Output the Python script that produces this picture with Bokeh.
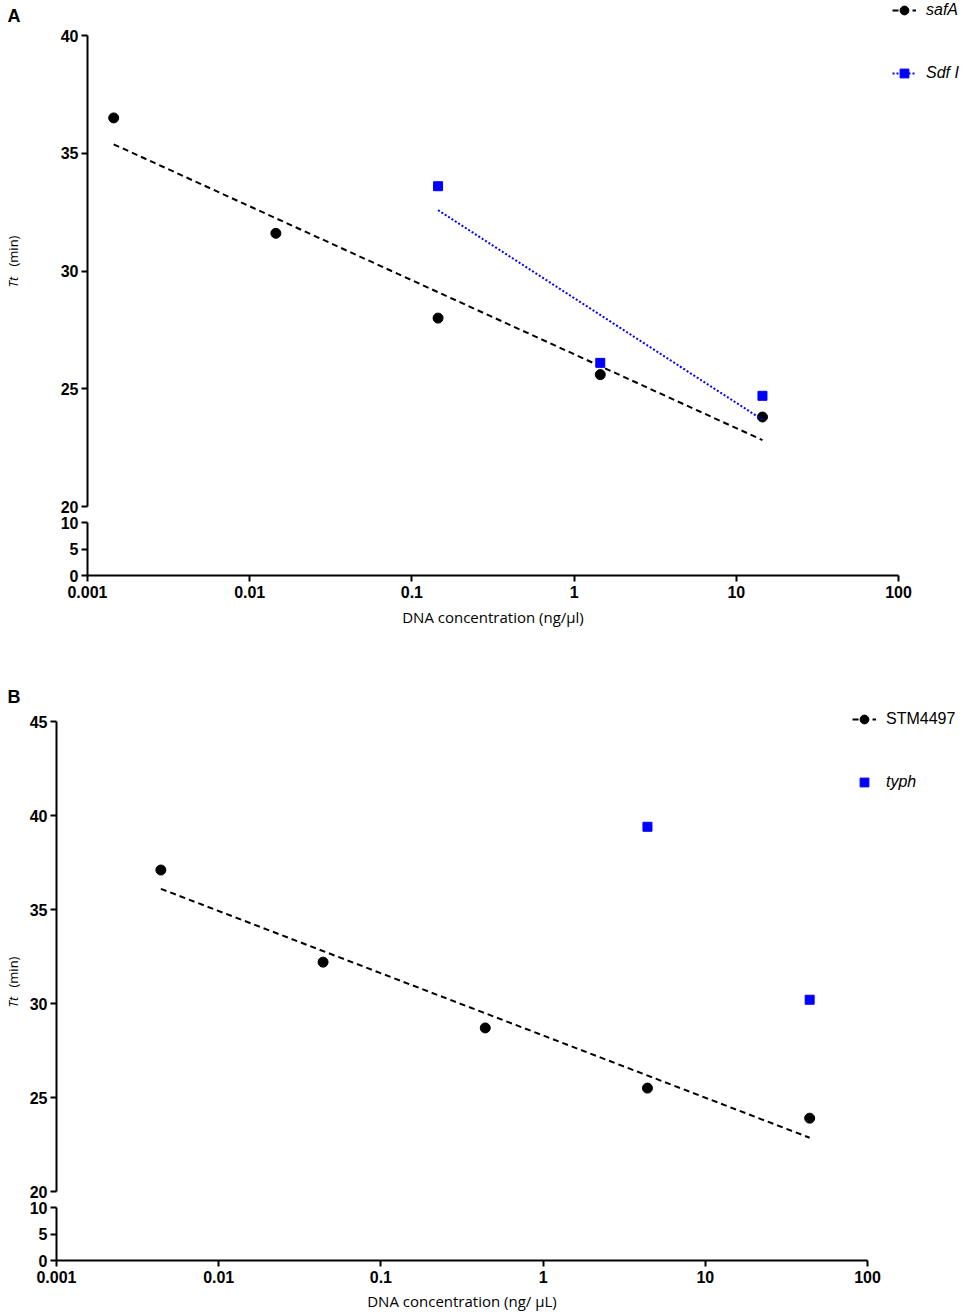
import numpy as np
from bokeh.plotting import figure
from bokeh.layouts import column, row
from bokeh.models import Range1d, FixedTicker, Legend, LegendItem, Label
from bokeh.embed import file_html
from bokeh.resources import INLINE

# ---------------- data ----------------
# Panel A
a_conc = [0.00145, 0.0145, 0.145, 1.45, 14.5]
safA_tt = [36.5, 31.6, 28.0, 25.6, 23.8]
sdf_conc = [0.145, 1.45, 14.5]
sdf_tt = [33.6, 26.1, 24.7]
# Panel B
b_conc = [0.0044, 0.044, 0.44, 4.4, 44.0]
stm_tt = [37.1, 32.2, 28.7, 25.5, 23.9]
typh_conc = [4.4, 44.0]
typh_tt = [39.4, 30.2]

x_ticks = [0.001, 0.01, 0.1, 1, 10, 100]
x_tick_labels = ["0.001", "0.01", "0.1", "1", "10", "100"]
a_upper_ticks = [20, 25, 30, 35, 40]
b_upper_ticks = [20, 25, 30, 35, 40, 45]
lower_ticks = [0, 5, 10]

TICK_FONT = "Liberation Sans"
TITLE_FONT = "Open Sans"
W = 968
STRIP = 24               # width of the label strip left of panel B
DECADE_PX = 162.2        # horizontal pixels per decade of the log axis


def fit_line(x, y):
    lx = np.log10(np.asarray(x, dtype=float))
    k, b = np.polyfit(lx, np.asarray(y, dtype=float), 1)
    xs = [x[0], x[-1]]
    return xs, [k * np.log10(v) + b for v in xs]


def base_fig(width, height, left, right, top, bottom, xr, yr, with_x):
    kw = dict(width=width, height=height, x_axis_type="log", x_range=xr,
              y_range=Range1d(*yr), output_backend="svg",
              toolbar_location=None, min_border_left=left,
              min_border_right=right, min_border_top=top,
              min_border_bottom=bottom)
    if not with_x:
        kw["x_axis_location"] = None
    p = figure(**kw)
    p.frame_align = False
    p.outline_line_color = None
    p.grid.visible = False
    return p


def style_axis(ax):
    ax.axis_line_width = 2
    ax.axis_line_color = "black"
    ax.major_tick_line_width = 2
    ax.major_tick_line_color = "black"
    ax.major_tick_in = 0
    ax.major_tick_out = 6
    ax.minor_tick_line_color = None
    ax.major_label_text_font = TICK_FONT
    ax.major_label_text_font_style = "bold"
    ax.major_label_text_font_size = "16px"
    ax.major_label_text_color = "black"


def style_yaxis(p, ticks):
    ax = p.yaxis[0]
    ax.ticker = FixedTicker(ticks=ticks, minor_ticks=[])
    ax.bounds = (ticks[0], ticks[-1])
    style_axis(ax)
    ax.major_label_standoff = 3


def make_upper(width, height, left, yr, ticks, xr):
    p = base_fig(width, height, left, 0, 0, 8, xr, yr, False)
    style_yaxis(p, ticks)
    return p


def make_lower(width, height, left, right, bottom, title, title_standoff):
    xr = Range1d(x_ticks[0], x_ticks[-1])
    p = base_fig(width, height, left, right, 8, bottom, xr, (0, 10), True)
    style_yaxis(p, lower_ticks)
    ax = p.xaxis[0]
    ax.ticker = FixedTicker(ticks=x_ticks, minor_ticks=[])
    ax.major_label_overrides = dict(zip(x_ticks, x_tick_labels))
    style_axis(ax)
    ax.major_label_standoff = 4
    ax.axis_label = title
    ax.axis_label_standoff = title_standoff
    ax.axis_label_text_font = TITLE_FONT
    ax.axis_label_text_font_style = "normal"
    ax.axis_label_text_font_size = "15px"
    ax.axis_label_text_color = "black"
    return p


def canvas_label(p, x, y, text, place, **kw):
    opts = dict(x=x, y=y, x_units="canvas", y_units="canvas", text=text,
                text_align="left", text_baseline="middle", text_color="black")
    opts.update(kw)
    if place is None:
        p.add_layout(Label(**opts))
    else:
        p.add_layout(Label(**opts), place)


def ylabel(p, x, y_tt, y_min, place):
    canvas_label(p, x, y_tt, "Tt", place, angle=np.pi / 2,
                 text_font=TITLE_FONT, text_font_style="italic",
                 text_font_size="13px")
    canvas_label(p, x, y_min, "(min)", place, angle=np.pi / 2,
                 text_font=TITLE_FONT, text_font_size="13px")


def panel_letter(p, x, y, t, place):
    canvas_label(p, x, y, t, place, text_font=TICK_FONT,
                 text_font_style="bold", text_font_size="18px")


def legend(items, loc, style, spacing=41):
    lg = Legend(items=items, location=loc)
    lg.label_text_font = TICK_FONT
    lg.label_text_font_style = style
    lg.label_text_font_size = "16px"
    lg.label_text_color = "black"
    lg.border_line_color = None
    lg.background_fill_alpha = 0
    lg.padding = 0
    lg.margin = 0
    lg.spacing = spacing
    lg.glyph_height = 22
    lg.glyph_width = 24
    lg.label_height = 22
    lg.label_standoff = 10
    return lg


# ---------------- panel A ----------------
# upper frame spans x 87..968 (100 sits at 898), y 0..506 (40 sits at 35)
xrA = Range1d(0.001, 100 * 10 ** ((W - 898) / DECADE_PX))
yA_top = 40 + 35 / (471 / 20)
pA1 = make_upper(W, 514, 87, (20, yA_top), a_upper_ticks, xrA)
fx, fy = fit_line(a_conc, safA_tt)
lA = pA1.line(fx, fy, line_color="black", line_width=2, line_dash="6 4")
sA = pA1.scatter(a_conc, safA_tt, marker="circle", size=10, color="black")
fx, fy = fit_line(sdf_conc, sdf_tt)
lS = pA1.line(fx, fy, line_color="#0000FF", line_width=2, line_dash="2 2")
sS = pA1.scatter(sdf_conc, sdf_tt, marker="square", size=9, color="#0000FF")
pA1.add_layout(legend([LegendItem(label="safA", renderers=[lA, sA]),
                       LegendItem(label="Sdf I", renderers=[lS, sS])],
                      (805, 422), "italic"))
panel_letter(pA1, 7, 15, "A", "left")
ylabel(pA1, 12, 287, 266, "left")

pA2 = make_lower(W, 136, 87, W - 898, 75, "DNA concentration (ng/\u00b5l)", 6)

# ---------------- panel B ----------------
# label strip (x 0..24), upper frame x 56..968 (100 at 867), y 650..1191
strip = figure(width=STRIP, height=549 + 116, x_range=Range1d(0, 1),
               y_range=Range1d(0, 1), x_axis_location=None,
               y_axis_location=None, output_backend="svg",
               toolbar_location=None, min_border=0)
strip.frame_align = False
strip.outline_line_color = None
strip.grid.visible = False
panel_letter(strip, 7, 46, "B", None)
ylabel(strip, 12, 357, 337, None)

WB = W - STRIP
xrB = Range1d(0.001, 100 * 10 ** ((W - 867) / DECADE_PX))
yB_top = 45 + 71 / (470 / 25)
pB1 = make_upper(WB, 549, 56 - STRIP, (20, yB_top), b_upper_ticks, xrB)
fx, fy = fit_line(b_conc, stm_tt)
lT = pB1.line(fx, fy, line_color="black", line_width=2, line_dash="6 4")
sT = pB1.scatter(b_conc, stm_tt, marker="circle", size=10, color="black")
sY = pB1.scatter(typh_conc, typh_tt, marker="square", size=9, color="#0000FF")
pB1.add_layout(legend([LegendItem(label="STM4497", renderers=[lT, sT])],
                      (796, 461), "normal"))
pB1.add_layout(legend([LegendItem(label="typh", renderers=[sY])],
                      (796, 398), "italic"))

pB2 = make_lower(WB, 116, 56 - STRIP, W - 867, 55,
                 "DNA concentration (ng/ \u00b5L)", 5)

layout = column(pA1, pA2, row(strip, column(pB1, pB2, spacing=0), spacing=0),
                spacing=0)

open("out.html", "w").write(file_html(layout, INLINE))
